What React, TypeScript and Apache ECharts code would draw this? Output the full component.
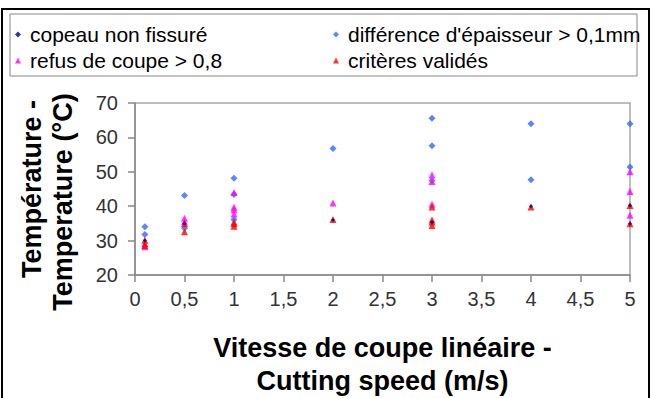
import React, { useEffect, useRef } from "react";
import * as echarts from "echarts";

const seriesNames = [
  "copeau non fissuré",
  "différence d'épaisseur > 0,1mm",
  "refus de coupe > 0,8",
  "critères validés",
];

const copeauX = [0.1, 0.5, 2, 3, 4, 5, 5];
const copeauY = [30, 35, 36, 35.3, 40, 40.2, 34.9];

const diffX = [0.1, 0.1, 0.5, 0.5, 1, 1, 1, 2, 3, 3, 3, 4, 4, 5, 5];
const diffY = [34, 31.8, 43.1, 33.6, 48.1, 43.4, 36.1, 56.8, 65.6, 57.6, 47.5, 64, 47.7, 64, 51.4];

const refusX = [0.1, 0.5, 0.5, 1, 1, 1, 1, 2, 3, 3, 3, 5, 5, 5];
const refusY = [28.2, 36.5, 35.5, 44, 39.7, 39, 37.7, 40.9, 49.1, 47.2, 40.6, 50, 44.3, 37.4];

const critX = [0.1, 0.1, 0.1, 0.5, 0.5, 1, 1, 1, 2, 3, 3, 3, 3, 4, 5, 5];
const critY = [30.1, 29.1, 28.6, 34.9, 32.6, 35.3, 34.9, 34.2, 36.1, 39.8, 36, 35.3, 34.4, 39.8, 40.2, 34.9];

const xTitle = "Vitesse de coupe linéaire -\nCutting speed (m/s)";
const yTitleLines = ["Température -", "Temperature (°C)"];

const pairs = (xs: number[], ys: number[]) => xs.map((x, i) => [x, ys[i]]);

export default function App() {
  const ref = useRef<HTMLDivElement>(null);
  useEffect(() => {
    if (!ref.current) return;
    const chart = echarts.init(ref.current, null, { renderer: "svg" });
    const font = "'Liberation Sans', Arial, sans-serif";
    const legendBase = (name: string, left: number, top: number, icon: string) => ({
      data: [{ name, icon }],
      left,
      top,
      itemWidth: 6,
      itemHeight: 6,
      padding: 0,
      textStyle: { fontFamily: font, fontSize: 21, color: "#000", padding: [0, 0, 0, 4] },
    });
    const titleStyle = { fontFamily: font, fontSize: 27, fontWeight: "bold", fill: "#000" };
    chart.setOption({
      animation: false,
      backgroundColor: "#fff",
      legend: [
        legendBase(seriesNames[0], 15, 24, "diamond"),
        legendBase(seriesNames[1], 333, 24, "diamond"),
        legendBase(seriesNames[2], 15, 50, "triangle"),
        legendBase(seriesNames[3], 333, 50, "triangle"),
      ],
      graphic: [
        {
          type: "rect",
          shape: { x: 2, y: 9, width: 647, height: 400 },
          style: { fill: "none", stroke: "#000", lineWidth: 2 },
          silent: true,
        },
        {
          type: "rect",
          shape: { x: 10, y: 14, width: 627, height: 62 },
          style: { fill: "none", stroke: "#888", lineWidth: 1 },
          silent: true,
        },
        {
          type: "text",
          x: 32,
          y: 189,
          rotation: Math.PI / 2,
          style: { ...titleStyle, text: yTitleLines[0], align: "center", verticalAlign: "middle" },
          silent: true,
        },
        {
          type: "text",
          x: 63,
          y: 202,
          rotation: Math.PI / 2,
          style: { ...titleStyle, text: yTitleLines[1], align: "center", verticalAlign: "middle" },
          silent: true,
        },
      ],
      grid: {
        left: 135,
        right: 24,
        top: 103,
        bottom: 121,
        show: true,
        borderColor: "#a8a8a8",
        borderWidth: 1.5,
      },
      xAxis: {
        type: "value",
        min: 0,
        max: 5,
        interval: 0.5,
        splitLine: { show: false },
        axisLine: { show: true, lineStyle: { color: "#888", width: 1.5 } },
        axisTick: { show: true, length: 7, lineStyle: { color: "#888", width: 1.5 } },
        axisLabel: {
          margin: 14,
          fontFamily: font,
          fontSize: 20,
          color: "#333",
          formatter: (v: number) => String(v).replace(".", ","),
        },
        name: xTitle,
        nameLocation: "middle",
        nameGap: 56,
        nameTextStyle: { fontFamily: font, fontSize: 27, fontWeight: "bold", color: "#000", lineHeight: 33 },
      },
      yAxis: {
        type: "value",
        min: 20,
        max: 70,
        interval: 10,
        splitLine: { show: false },
        axisLine: { show: true, lineStyle: { color: "#888", width: 1.5 } },
        axisTick: { show: true, length: 7, lineStyle: { color: "#888", width: 1.5 } },
        axisLabel: { margin: 17, fontFamily: font, fontSize: 20, color: "#333" },
      },
      series: [
        {
          name: seriesNames[1],
          type: "scatter",
          symbol: "diamond",
          symbolSize: 7,
          itemStyle: { color: "#3366ff" },
          data: pairs(diffX, diffY),
          z: 2,
        },
        {
          name: seriesNames[2],
          type: "scatter",
          symbol: "triangle",
          symbolSize: 7,
          itemStyle: { color: "#ff00ff" },
          data: pairs(refusX, refusY),
          z: 3,
        },
        {
          name: seriesNames[3],
          type: "scatter",
          symbol: "triangle",
          symbolSize: 7,
          itemStyle: { color: "#ff0000" },
          data: pairs(critX, critY),
          z: 4,
        },
        {
          name: seriesNames[0],
          type: "scatter",
          symbol: "diamond",
          symbolSize: 4,
          itemStyle: { color: "#000080" },
          data: pairs(copeauX, copeauY),
          z: 5,
        },
      ],
    });
    return () => chart.dispose();
  }, []);
  return (
    <div
      ref={ref}
      style={{ position: "absolute", left: 0, top: 0, width: 654, height: 398 }}
    />
  );
}
